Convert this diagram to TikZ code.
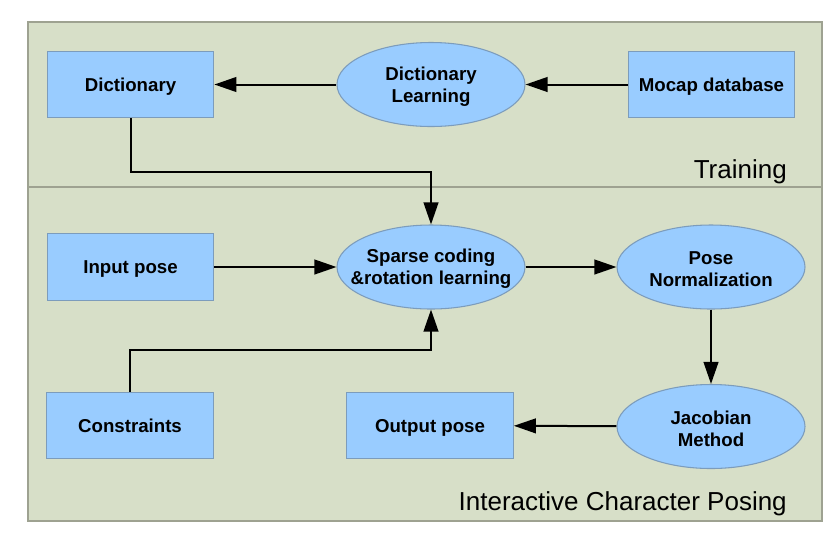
\documentclass[tikz,border=0pt]{standalone}
\usepackage{fontspec}
\setmainfont{Liberation Sans}
\usetikzlibrary{shapes.geometric,arrows.meta}
\definecolor{panelbg}{HTML}{D7DFC8}
\definecolor{panelline}{HTML}{9EA291}
\definecolor{boxfill}{HTML}{99CCFF}
\definecolor{boxline}{HTML}{7C9CBC}
\tikzset{
  rbox/.style={draw=boxline, fill=boxfill, line width=0.8pt, rectangle, minimum width=125pt, minimum height=50pt, font=\fontsize{14}{16}\selectfont\bfseries, align=center, inner sep=0pt, text height=10pt, text depth=0pt},
  ebox/.style={draw=boxline, fill=boxfill, line width=0.8pt, ellipse, minimum width=141pt, minimum height=63pt, inner sep=0pt},
  etext/.style={font=\fontsize{14}{16.5}\selectfont\bfseries, align=center, inner sep=0pt, yshift=-1.5pt},
  conn/.style={line width=1.5pt, -{Triangle[length=16.5pt,width=11pt]}},
  zlabel/.style={font=\fontsize{19.5}{22}\selectfont, anchor=base east, inner sep=0pt}
}
\begin{document}
\begin{tikzpicture}[x=0.75pt,y=-0.75pt]
\useasboundingbox (0,0) rectangle (830,547);
\fill[white] (0,0) rectangle (830,547);
\draw[panelline, fill=panelbg, line width=1pt] (28,22) rectangle (822,521);
\draw[panelline, line width=1pt] (28,187) -- (822,187);

\node[rbox] (dict) at (130.5,84.5) {Dictionary};
\node[ebox, label={[etext]center:Dictionary\\Learning}] (dlearn) at (431,84.5) {};
\node[rbox] (mocap) at (711.5,84.5) {Mocap database};
\node[zlabel] (train) at (787,178) {Training};

\node[rbox] (input) at (130.5,267) {Input pose};
\node[ebox, label={[etext]center:Sparse coding\\\&rotation learning}] (sparse) at (431,267) {};
\node[ebox, label={[etext]center:Pose\\Normalization}] (norm) at (711,267) {};

\node[rbox] (cons) at (130,425.5) {Constraints};
\node[rbox] (out) at (430,425.5) {Output pose};
\node[ebox, label={[etext]center:Jacobian\\Method}] (jac) at (711,426.5) {};
\node[zlabel] (icp) at (787,510) {Interactive Character Posing};

\coordinate (c1) at (130.5,172);
\coordinate (c2) at (431,172);
\coordinate (c3) at (130,350);
\coordinate (c4) at (431,350);

\draw[conn] (mocap) -- (dlearn);
\draw[conn] (dlearn) -- (dict);
\draw[conn] (dict.south) -- (c1) -- (c2) -- (sparse.north);
\draw[conn] (input) -- (sparse);
\draw[conn] (sparse) -- (norm);
\draw[conn] (norm) -- (jac);
\draw[conn] (jac) -- (out);
\draw[conn] (cons.north) -- (c3) -- (c4) -- (sparse.south);
\end{tikzpicture}
\end{document}
